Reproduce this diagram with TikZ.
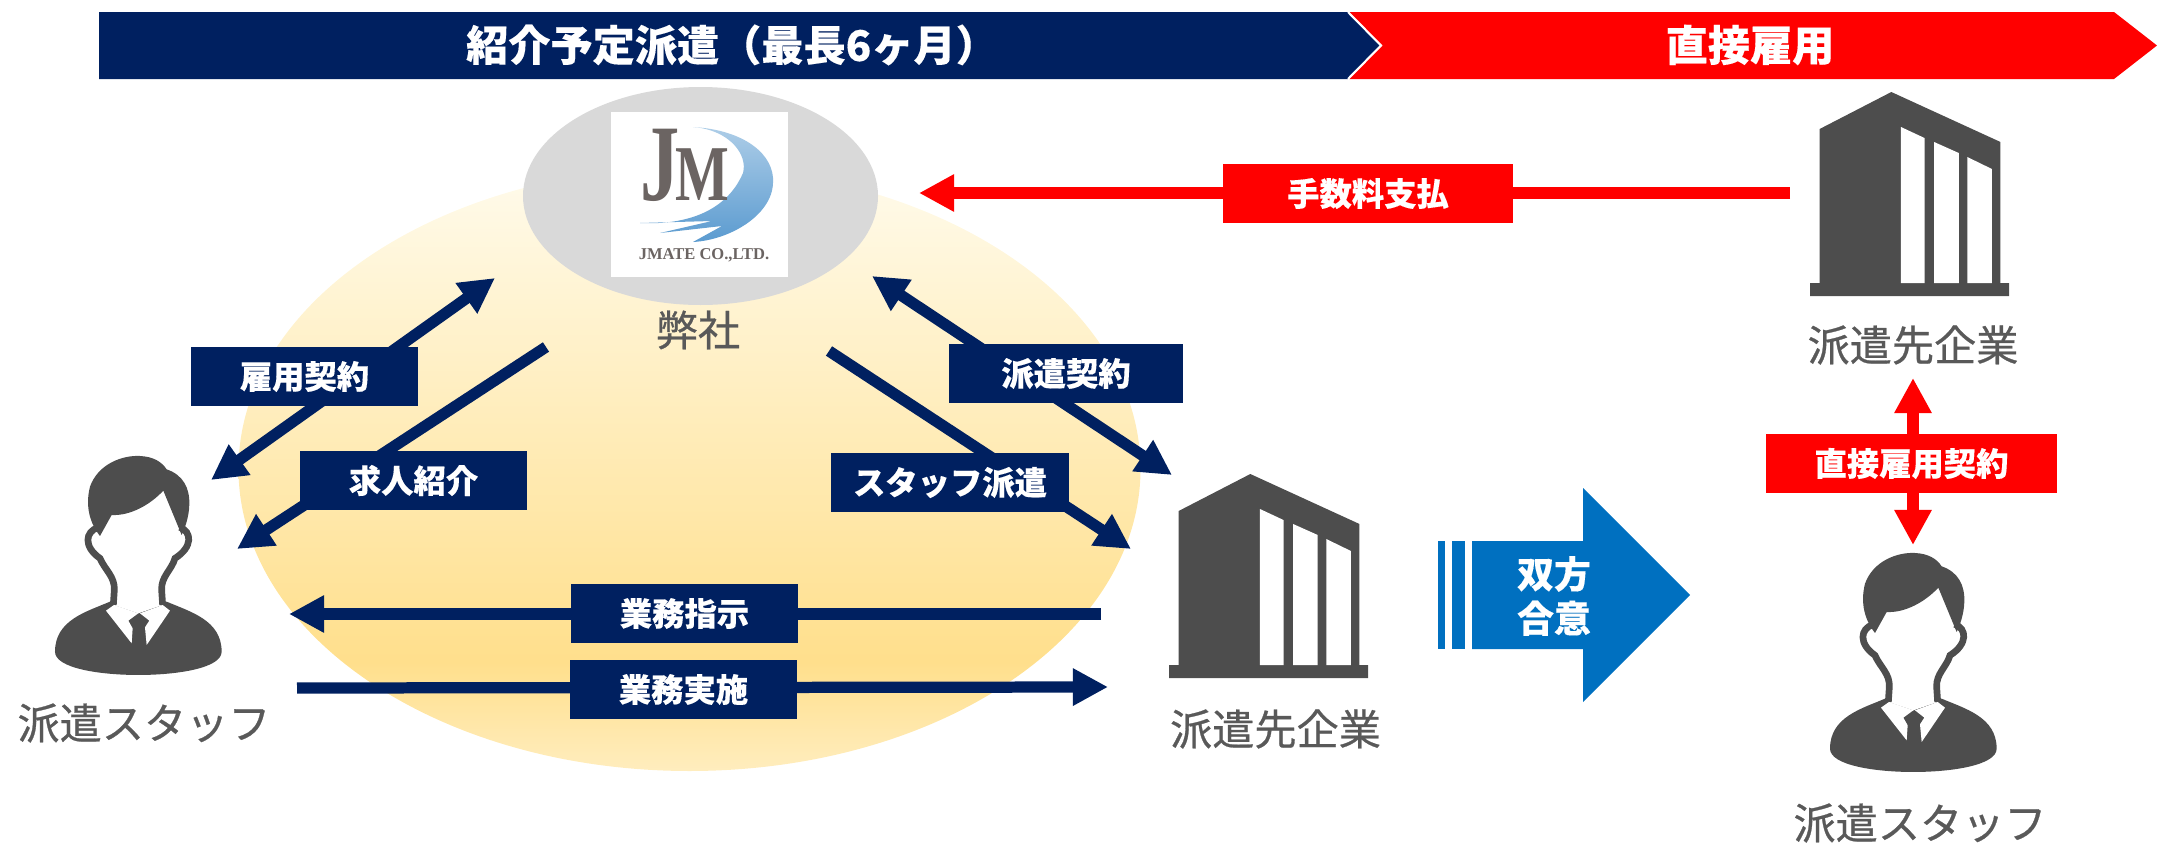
\documentclass[tikz,border=0pt]{standalone}
\usepackage{fontspec}
\usetikzlibrary{arrows.meta}
\setmainfont{Liberation Serif}
\newfontfamily\cjk[BoldFeatures={FakeBold=0.25}]{Noto Sans CJK JP}
\newfontfamily\cjkname[FakeBold=0.6]{Noto Sans CJK JP}
\definecolor{navybar}{HTML}{002060}
\definecolor{darkicon}{HTML}{4D4D4D}
\definecolor{greylabel}{HTML}{595959}
\definecolor{ovalgrey}{HTML}{D9D9D9}
\definecolor{bigblue}{HTML}{0070C0}
\definecolor{logoblue}{HTML}{5B9BD0}
\definecolor{logotext}{HTML}{6B6462}
\definecolor{fielda}{HTML}{FFFBEC}
\definecolor{fieldb}{HTML}{FFDF8C}
\definecolor{fieldc}{HTML}{FFEDBE}
\pgfdeclareverticalshading{fieldshade}{100bp}{
  color(0bp)=(fieldc); color(25bp)=(fieldc); color(34bp)=(fieldb); color(75bp)=(fielda); color(100bp)=(fielda)}
\tikzset{
  px/.style={x=0.1mm,y=-0.1mm},
  every node/.style={font=\cjk},
  navybox/.style={fill=navybar,text=white,font=\cjk\bfseries\fontsize{9.2}{10}\selectfont,inner sep=0pt,minimum height=5.9mm},
  redbox/.style={fill=red,text=white,font=\cjk\bfseries\fontsize{9.2}{10}\selectfont,inner sep=0pt,minimum height=5.9mm},
  nameplate/.style={text=greylabel,font=\cjkname\fontsize{12}{13}\selectfont,inner sep=0pt},
  bartext/.style={text=white,font=\cjk\bfseries\fontsize{12}{13}\selectfont,inner sep=0pt},
  navyarrow/.style={draw=navybar,line width=3.2pt,-{Triangle[length=10pt,width=10pt]}},
  navytwoway/.style={draw=navybar,line width=3.2pt,{Triangle[length=10pt,width=10pt]}-{Triangle[length=10pt,width=10pt]}},
  redarrow/.style={draw=red,line width=3.3pt,-{Triangle[length=10pt,width=10pt]}},
  redtwoway/.style={draw=red,line width=3.2pt,{Triangle[length=10pt,width=10pt]}-{Triangle[length=10pt,width=10pt]}},
  building/.pic={
    \fill[darkicon] (0,0) -- (186,0) -- (186,-13) -- (178,-13) -- (178,-154) -- (76,-204) -- (9,-167) -- (9,-13) -- (0,-13) -- cycle;
    \fill[white] (85,-13) -- (107,-13) -- (107,-158) -- (85,-169) -- cycle;
    \fill[white] (116,-13) -- (139,-13) -- (139,-143) -- (116,-154) -- cycle;
    \fill[white] (147,-13) -- (170,-13) -- (170,-127) -- (147,-139) -- cycle;
  },
  person/.pic={
    \fill[darkicon] (330,515) .. controls (260,545) and (165,570) .. (165,665)
      .. controls (165,715) and (300,735) .. (415,735)
      .. controls (530,735) and (665,715) .. (665,665)
      .. controls (665,570) and (570,545) .. (500,515) -- (415,550) -- cycle;
    \fill[white] (295,292) .. controls (255,305) and (250,350) .. (300,385)
      .. controls (315,420) and (345,440) .. (343,480) -- (340,525) -- (415,550) -- (488,525) -- (485,480)
      .. controls (483,440) and (515,420) .. (525,385)
      .. controls (580,350) and (575,305) .. (540,292) -- cycle;
    \draw[darkicon,line width=1.9pt] (295,292) .. controls (255,305) and (250,350) .. (300,385)
      .. controls (315,420) and (345,440) .. (343,480) -- (340,525);
    \draw[darkicon,line width=1.9pt] (488,525) -- (485,480)
      .. controls (483,440) and (515,420) .. (525,385)
      .. controls (580,350) and (575,305) .. (540,292);
    \fill[white] (318,542) -- (342,525) -- (415,550) -- (385,572) -- (398,595) -- (395,640) -- cycle;
    \fill[white] (510,542) -- (488,525) -- (420,550) -- (448,572) -- (435,592) -- (440,645) -- cycle;
    \fill[darkicon] (300,318) .. controls (270,280) and (255,230) .. (270,170)
      .. controls (295,100) and (370,75) .. (420,78)
      .. controls (460,80) and (485,95) .. (500,118)
      .. controls (550,135) and (570,175) .. (568,225)
      .. controls (567,260) and (555,295) .. (545,315)
      -- (490,182) .. controls (450,225) and (390,258) .. (335,255) -- cycle;
  },
}
\begin{document}
\begin{tikzpicture}[px]
  \useasboundingbox (0,0) rectangle (2157,842);

  % bars
  \fill[navybar] (99,12) -- (1348,12) -- (1381,45.5) -- (1348,79) -- (99,79) -- cycle;
  \fill[red] (1349,12) -- (2114,12) -- (2157,45.5) -- (2114,79) -- (1349,79) -- (1381,45.5) -- cycle;
  \draw[white,line width=0.6pt] (1348,12) -- (1381,45.5) -- (1348,79);
  \node (barblue) [bartext] at (732,45) {紹介予定派遣（最長6ヶ月）};
  \node (barred) [bartext] at (1750,45) {直接雇用};

  % ovals
  \shade[shading=fieldshade] (689.5,469) ellipse [x radius=451,y radius=302];
  \fill[ovalgrey] (700.5,196) ellipse [x radius=177.5,y radius=109];

  % logo
  \fill[white] (611,112) rectangle (788,277);
  \shade[top color=logoblue!50!white,bottom color=logoblue] (693,127) .. controls (745,130) and (775,155) .. (773,183)
    .. controls (772,215) and (730,240) .. (693,242) -- (722,226) -- (660,233) -- (712,221) -- (640,223)
    .. controls (680,225) and (725,215) .. (743,173)
    .. controls (748,155) and (730,130) .. (693,127) -- cycle;
  \node (logojm) [text=logotext,inner sep=0pt,anchor=base,transform shape,xscale=0.72,font=\bfseries] at (685,200) {{\fontsize{31}{31}\selectfont J}\kern-1.5pt{\fontsize{22.5}{22.5}\selectfont M}};
  \node (logotxt) [text=logotext,inner sep=0pt,font=\bfseries\fontsize{4.7}{5}\selectfont] at (704,255) {JMATE CO.,LTD.};
  \node (company) [nameplate] at (698,330) {弊社};

  % arrows
  \coordinate (empa) at (211,480);
  \coordinate (empb) at (495,278);
  \coordinate (joba) at (546,347);
  \coordinate (jobb) at (237,549);
  \coordinate (dispa) at (872,276);
  \coordinate (dispb) at (1172,475);
  \coordinate (stfa) at (829,351);
  \coordinate (stfb) at (1131,549);
  \coordinate (orda) at (1101,614);
  \coordinate (ordb) at (289,614);
  \coordinate (wrka) at (297,688);
  \coordinate (wrkb) at (1108,687);
  \coordinate (feea) at (1790,193);
  \coordinate (feeb) at (919,193);
  \coordinate (cona) at (1913,378);
  \coordinate (conb) at (1913,545);

  \draw[navytwoway] (empa) -- (empb);
  \draw[navyarrow] (joba) -- (jobb);
  \draw[navytwoway] (dispa) -- (dispb);
  \draw[navyarrow] (stfa) -- (stfb);
  \draw[navyarrow] (orda) -- (ordb);
  \draw[navyarrow] (wrka) -- (wrkb);
  \draw[redarrow] (feea) -- (feeb);
  \draw[redtwoway] (cona) -- (conb);

  \node (emp) [navybox,minimum width=22.7mm] at (304.5,376.5) {雇用契約};
  \node (job) [navybox,minimum width=22.7mm] at (413.5,480.5) {求人紹介};
  \node (disp) [navybox,minimum width=23.4mm] at (1066,373.5) {派遣契約};
  \node (stf) [navybox,minimum width=23.8mm] at (950,482.5) {スタッフ派遣};
  \node (ord) [navybox,minimum width=22.7mm] at (684.5,613.5) {業務指示};
  \node (wrk) [navybox,minimum width=22.7mm] at (683.5,689.5) {業務実施};
  \node (fee) [redbox,minimum width=29mm] at (1368,193.5) {手数料支払};
  \node (con) [redbox,minimum width=29.1mm] at (1911.5,463.5) {直接雇用契約};

  % agreement arrow
  \fill[bigblue] (1438,541) rectangle (1445,649);
  \fill[bigblue] (1452,541) rectangle (1465,649);
  \fill[bigblue] (1472,541) -- (1583,541) -- (1583,488) -- (1690,595) -- (1583,702) -- (1583,649) -- (1472,649) -- cycle;
  \node (agree) [text=white,inner sep=0pt,align=center,font=\cjk\bfseries\fontsize{10.5}{12.6}\selectfont] at (1554,596) {双方\\合意};

  % icons
  \pic [xscale=1.07] at (1169,678) {building};
  \pic [xscale=1.07] at (1810,296) {building};
  \node (client) [nameplate] at (1275.5,729) {派遣先企業};
  \node (clientb) [nameplate] at (1913,345) {派遣先企業};

  \pic [shift={(0,430)},scale=0.3333] {person};
  \pic [shift={(1775,527)},scale=0.3333] {person};
  \node (staff) [nameplate] at (144,723) {派遣スタッフ};
  \node (staffb) [nameplate] at (1920,823) {派遣スタッフ};
\end{tikzpicture}
\end{document}
